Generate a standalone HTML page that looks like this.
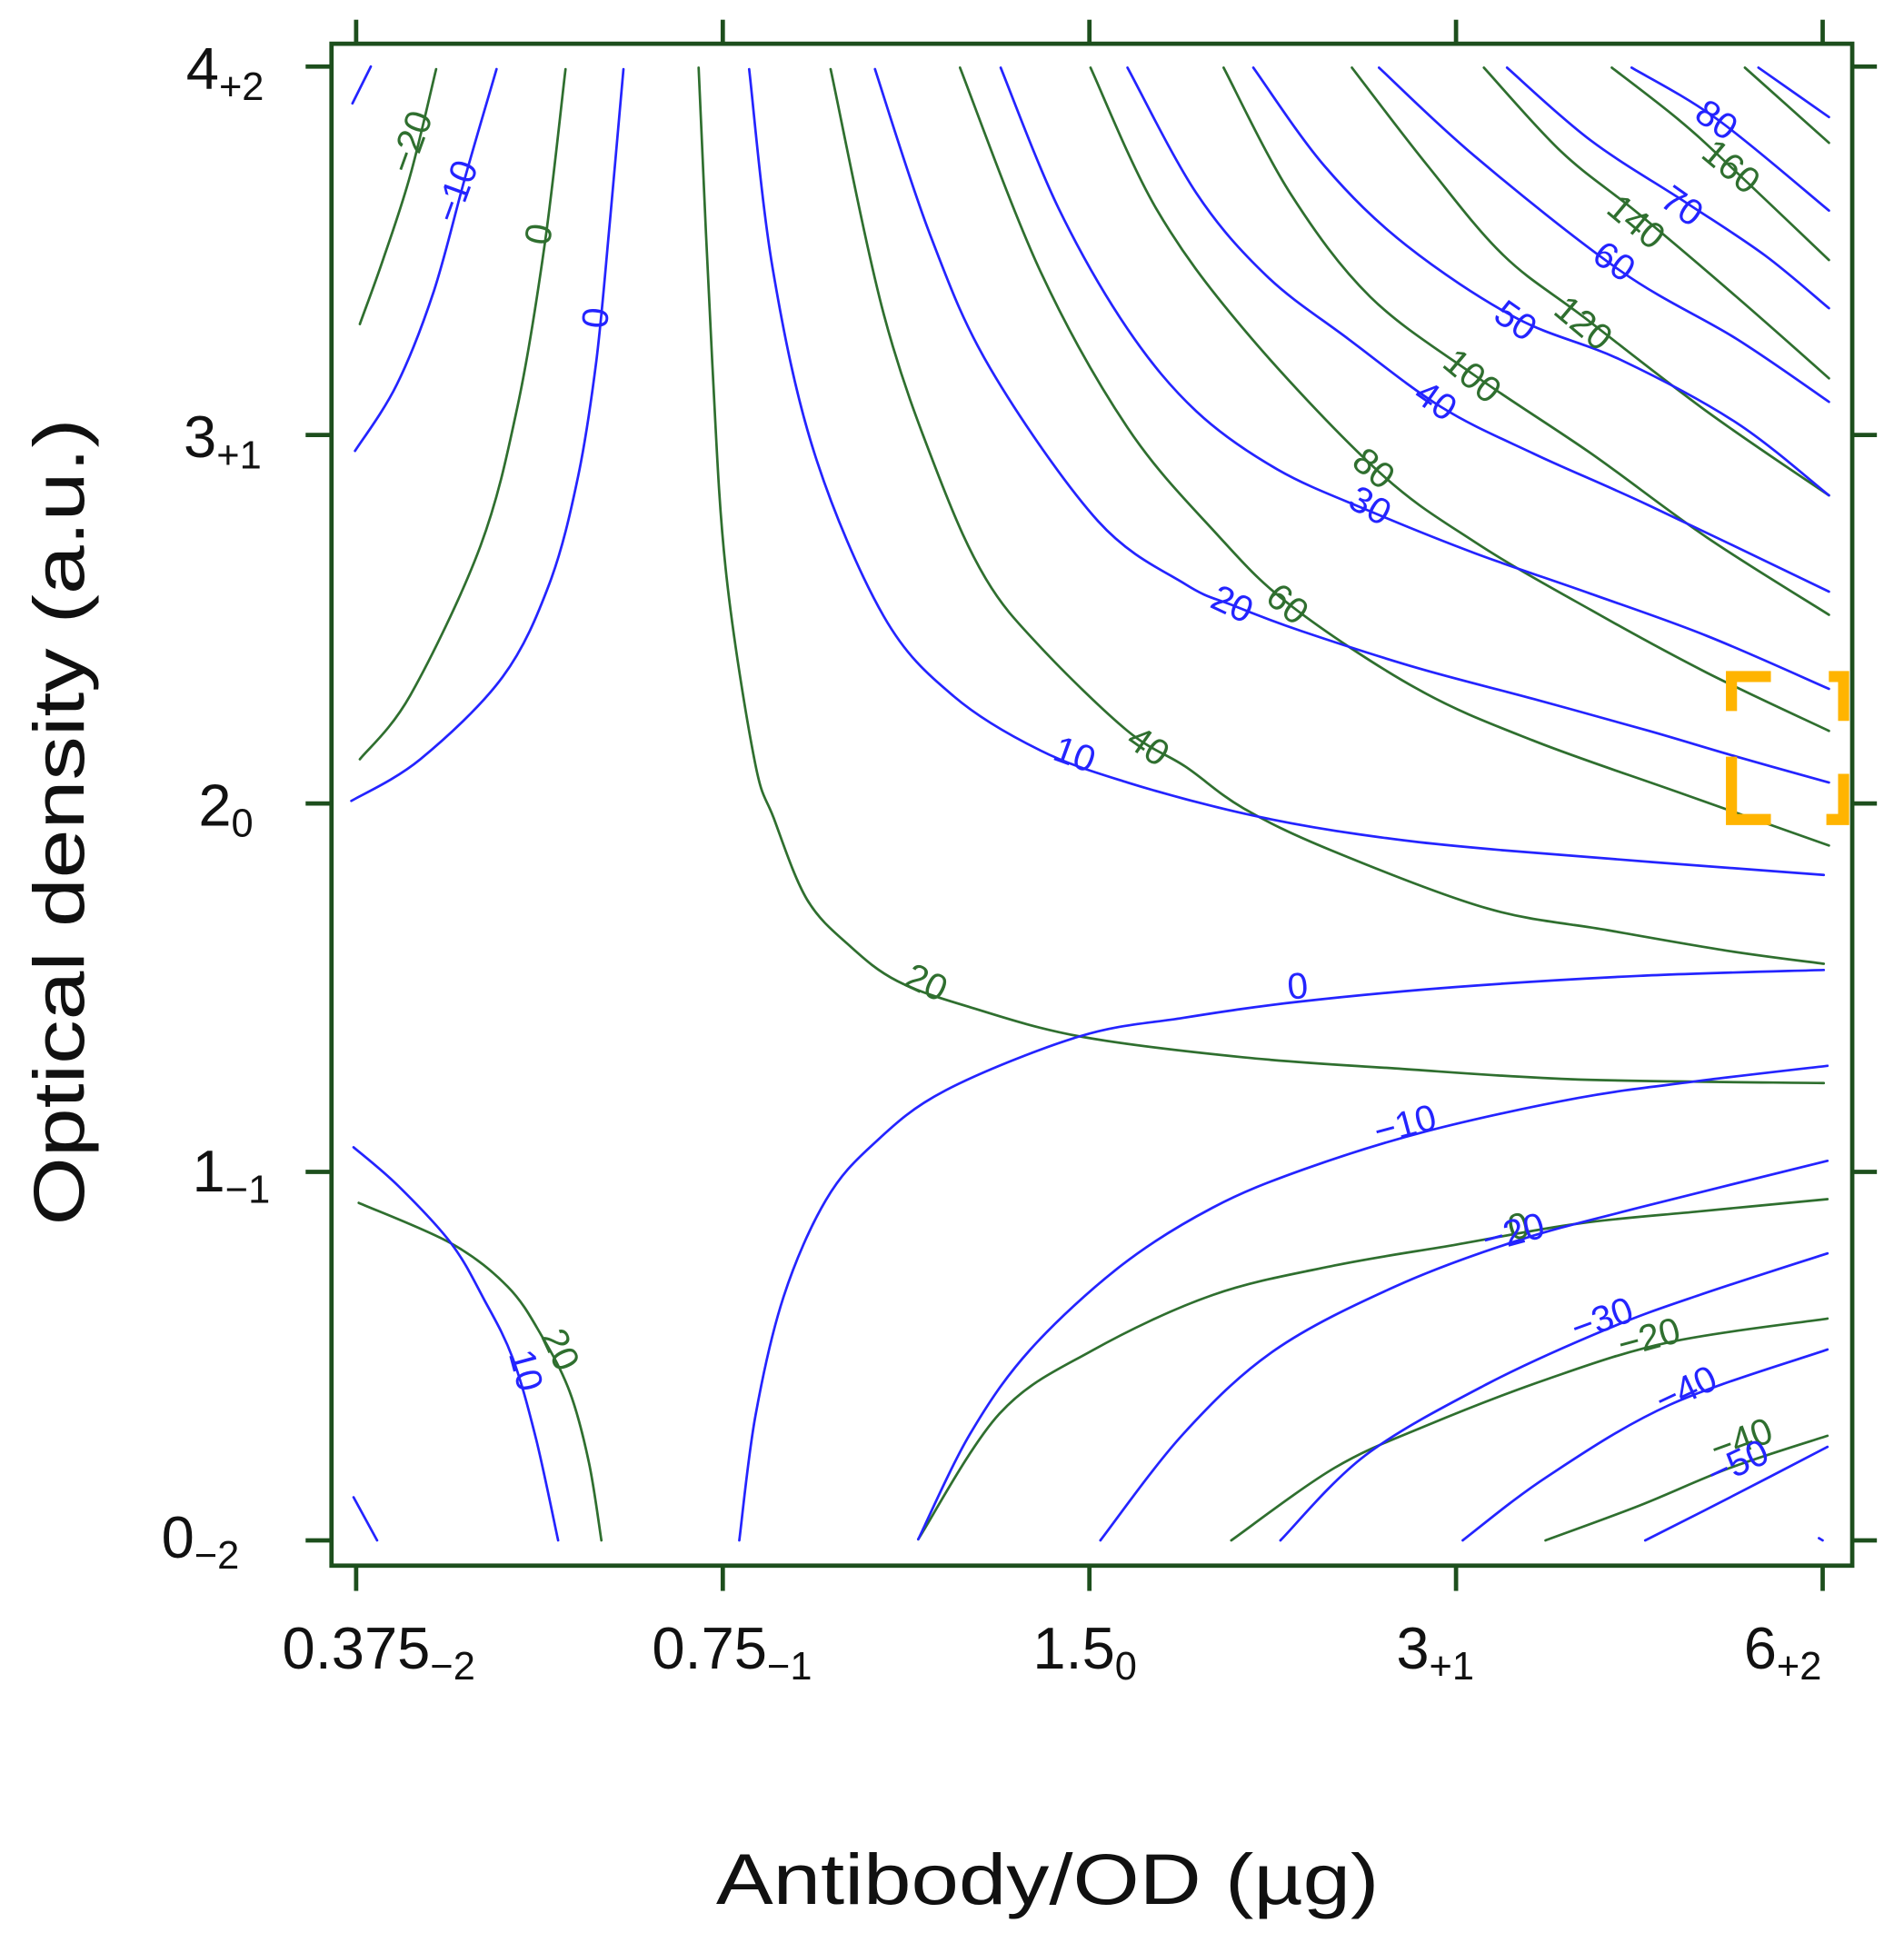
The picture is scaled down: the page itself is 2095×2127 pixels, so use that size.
<!DOCTYPE html>
<html><head><meta charset="utf-8"><title>Contour plot</title>
<style>
html,body{margin:0;padding:0;background:#fff;}
svg{display:block;font-family:"Liberation Sans",Arial,sans-serif;}
</style></head>
<body>
<svg id="chart" width="2095" height="2127" viewBox="0 0 1545 1568.6" preserveAspectRatio="none" xmlns="http://www.w3.org/2000/svg">
  <rect x="0" y="0" width="1545" height="1569" fill="#fff"/>
  <g id="contours"></g>
  <g id="labels"></g>
  <rect x="269" y="35.5" width="1234" height="1235" fill="none" stroke="#1d4f1d" stroke-width="3.5"/>
  <g id="ticks" stroke="#1d4f1d" stroke-width="3.5"></g>
  <g stroke="#FFB400" stroke-width="9" fill="none">
    <path d="M1437 549 H1405 V577"/>
    <path d="M1484 549 H1496 V585"/>
    <path d="M1405 614 V665 H1437"/>
    <path d="M1496 628 V665 H1482"/>
  </g>
  <g font-size="48" fill="#111">
    <text x="151" y="72">4<tspan font-size="32" dy="9">+2</tspan></text>
    <text x="149" y="371">3<tspan font-size="32" dy="9">+1</tspan></text>
    <text x="161" y="670">2<tspan font-size="32" dy="9">0</tspan></text>
    <text x="156" y="967">1<tspan font-size="32" dy="9">−1</tspan></text>
    <text x="131" y="1264">0<tspan font-size="32" dy="9">−2</tspan></text>
  </g>
  <g font-size="48" fill="#111">
    <text x="229" y="1354">0.375<tspan font-size="32" dy="9">−2</tspan></text>
    <text x="529" y="1354">0.75<tspan font-size="32" dy="9">−1</tspan></text>
    <text x="838" y="1354">1.5<tspan font-size="32" dy="9">0</tspan></text>
    <text x="1133" y="1354">3<tspan font-size="32" dy="9">+1</tspan></text>
    <text x="1415" y="1354">6<tspan font-size="32" dy="9">+2</tspan></text>
  </g>
  <text x="850" y="1545" font-size="58" text-anchor="middle" textLength="538" lengthAdjust="spacingAndGlyphs" fill="#111">Antibody/OD (µg)</text>
  <text transform="translate(68,667) rotate(-90)" font-size="58" text-anchor="middle" textLength="655" lengthAdjust="spacingAndGlyphs" fill="#111">Optical density (a.u.)</text>
</svg>
<script>
// x: coded log2 antibody level (-2..2); y: optical density (0..4)
const xTicks = [-2, -1, 0, 1, 2];
const yTicks = [0, 1, 2, 3, 4];
const blueLevels = [-20, -10, 0, 10, 20, 30, 40, 50, 60, 70, 80, 90, 0, -10, -20, -30, -40, -50, -60, 10, 20];
const blueLines = [
 [[-2.01,3.9],[-1.96,4.0]],
 [[-1.617,3.993],[-1.701,3.706],[-1.788,3.391],[-1.889,3.137],[-2.003,2.957]],
 [[-1.271,3.993],[-1.308,3.579],[-1.345,3.201],[-1.395,2.886],[-1.472,2.599],[-1.6,2.344],[-1.825,2.12],[-2.013,2.007]],
 [[-0.928,3.993],[-0.864,3.452],[-0.75,2.95],[-0.561,2.508],[-0.37,2.291],[-0.134,2.144],[0.104,2.057],[0.42,1.973],[0.736,1.916],[1.129,1.873],[2.003,1.806]],
 [[-0.585,3.993],[-0.434,3.542],[-0.27,3.18],[0.024,2.766],[0.262,2.595],[0.39,2.538],[0.578,2.468],[0.894,2.368],[1.21,2.284],[1.526,2.197],[1.765,2.127],[2.017,2.057]],
 [[-0.242,3.997],[-0.084,3.615],[0.104,3.288],[0.292,3.064],[0.514,2.906],[0.766,2.793],[1.052,2.679],[1.368,2.569],[1.684,2.455],[2.017,2.311]],
 [[0.104,3.997],[0.292,3.656],[0.484,3.431],[0.706,3.261],[0.958,3.077],[1.21,2.95],[1.526,2.809],[2.017,2.575]],
 [[0.447,3.997],[0.642,3.729],[0.864,3.515],[1.163,3.318],[1.449,3.204],[1.765,3.033],[2.017,2.836]],
 [[0.79,3.997],[1.052,3.756],[1.449,3.445],[1.765,3.261],[2.017,3.09]],
 [[1.139,3.997],[1.368,3.799],[1.63,3.629],[1.842,3.488],[2.017,3.344]],
 [[1.479,3.997],[1.714,3.856],[2.017,3.609]],
 [[1.825,3.997],[2.017,3.863]],
 [[-0.955,0],[-0.911,0.338],[-0.834,0.662],[-0.719,0.923],[-0.588,1.077],[-0.393,1.221],[-0.027,1.368],[0.255,1.418],[0.571,1.462],[1.002,1.502],[1.499,1.532],[2.003,1.548]],
 [[-0.467,0.003],[-0.326,0.288],[-0.161,0.518],[0.087,0.746],[0.336,0.903],[0.585,1.007],[0.918,1.11],[1.334,1.201],[1.664,1.247],[2.013,1.288]],
 [[0.03,0],[0.255,0.288],[0.504,0.515],[0.834,0.689],[1.166,0.813],[1.499,0.903],[2.013,1.03]],
 [[0.521,0],[0.753,0.231],[1.086,0.425],[1.415,0.575],[1.664,0.666],[2.013,0.779]],
 [[1.018,0],[1.25,0.174],[1.583,0.368],[2.013,0.518]],
 [[1.516,0],[1.748,0.117],[2.013,0.254]],
 [[1.99,0.006],[2.0,0.0]],
 [[-2.007,1.067],[-1.886,0.963],[-1.741,0.806],[-1.65,0.652],[-1.573,0.495],[-1.509,0.274],[-1.449,0]],
 [[-2.007,0.117],[-1.943,0]]
];
const greenLevels = [-20, 0, 20, 40, 60, 80, 100, 120, 140, 160, 180, 0, -20, -40, 20];
const greenLines = [
 [[-1.782,3.993],[-1.852,3.706],[-1.926,3.478],[-1.99,3.301]],
 [[-1.429,3.993],[-1.486,3.515],[-1.56,3.077],[-1.661,2.699],[-1.852,2.294],[-1.99,2.12]],
 [[-1.066,3.997],[-1.029,3.201],[-0.992,2.635],[-0.914,2.12],[-0.861,1.96],[-0.77,1.739],[-0.652,1.612],[-0.524,1.518],[-0.329,1.448],[-0.027,1.368],[0.42,1.311],[0.834,1.281],[1.334,1.251],[2.003,1.241]],
 [[-0.706,3.993],[-0.561,3.328],[-0.41,2.886],[-0.282,2.609],[-0.134,2.425],[0.104,2.197],[0.262,2.1],[0.42,1.987],[0.659,1.873],[1.082,1.716],[1.415,1.656],[1.748,1.599],[2.003,1.565]],
 [[-0.353,3.997],[-0.134,3.445],[0.104,3.02],[0.343,2.736],[0.548,2.538],[0.894,2.311],[1.21,2.171],[1.607,2.03],[2.017,1.886]],
 [[0.003,3.997],[0.182,3.615],[0.42,3.288],[0.783,2.906],[1.052,2.709],[1.368,2.525],[1.684,2.355],[2.017,2.197]],
 [[0.366,3.997],[0.548,3.656],[0.766,3.375],[1.052,3.161],[1.368,2.95],[1.684,2.722],[2.017,2.512]],
 [[0.716,3.997],[0.924,3.729],[1.129,3.488],[1.351,3.318],[1.684,3.064],[2.017,2.836]],
 [[1.076,3.997],[1.287,3.769],[1.496,3.602],[1.765,3.375],[2.017,3.154]],
 [[1.425,3.997],[1.607,3.856],[1.748,3.729],[2.017,3.475]],
 [[1.788,3.997],[2.017,3.793]],
 [[-0.467,0.003],[-0.245,0.344],[0.007,0.515],[0.336,0.666],[0.669,0.746],[1.002,0.803],[1.334,0.86],[1.664,0.893],[2.013,0.926]],
 [[0.387,0],[0.669,0.197],[0.918,0.311],[1.25,0.438],[1.583,0.538],[2.013,0.602]],
 [[1.244,0],[1.499,0.094],[1.748,0.197],[2.013,0.284]],
 [[-1.993,0.916],[-1.741,0.806],[-1.587,0.689],[-1.496,0.559],[-1.418,0.405],[-1.365,0.211],[-1.331,0]]
];
const blueLabelText = ["−10","0","10","20","30","40","50","60","70","80","0","−10","−20","−30","−40","−50","10"];
const blueLabelPos = [[-1.728,3.662],[-1.348,3.318],[-0.04,2.134],[0.39,2.542],[0.766,2.809],[0.945,3.094],[1.163,3.311],[1.432,3.472],[1.617,3.622],[1.711,3.856],[0.568,1.505],[0.861,1.13],[1.156,0.836],[1.398,0.602],[1.627,0.411],[1.768,0.211],[-1.536,0.462]];
const blueLabelAngle = [-70,-85,20,25,30,35,35,35,35,35,-5,-15,-15,-20,-25,-25,75];
const greenLabelText = ["−20","0","20","40","60","80","100","120","140","160","20","0","−20","−40"];
const greenLabelPos = [[-1.852,3.796],[-1.503,3.545],[-0.444,1.515],[0.161,2.157],[0.541,2.542],[0.776,2.91],[1.045,3.161],[1.348,3.304],[1.492,3.579],[1.751,3.729],[-1.442,0.518],[1.17,0.853],[1.526,0.552],[1.778,0.274]];
const greenLabelAngle = [-70,-80,25,35,40,40,40,40,40,40,65,-15,-15,-20];

const NS = "http://www.w3.org/2000/svg";
function sx(a){ return 884 + a * 297.5; }
function sy(v){ return 1250 - v * 299; }
function smoothPath(pts){
  const p = pts.map(d => [sx(d[0]), sy(d[1])]);
  let s = "M" + p[0][0].toFixed(1) + " " + p[0][1].toFixed(1);
  for (let i = 0; i < p.length - 1; i++) {
    const p0 = p[Math.max(0, i - 1)], p1 = p[i], p2 = p[i + 1], p3 = p[Math.min(p.length - 1, i + 2)];
    const c1x = p1[0] + (p2[0] - p0[0]) / 6, c1y = p1[1] + (p2[1] - p0[1]) / 6;
    const c2x = p2[0] - (p3[0] - p1[0]) / 6, c2y = p2[1] - (p3[1] - p1[1]) / 6;
    s += " C" + c1x.toFixed(1) + " " + c1y.toFixed(1) + " " + c2x.toFixed(1) + " " + c2y.toFixed(1) + " " + p2[0].toFixed(1) + " " + p2[1].toFixed(1);
  }
  return s;
}
const gC = document.getElementById("contours");
function drawLines(lines, levels, color, kind){
  lines.forEach((ln, i) => {
    const el = document.createElementNS(NS, "path");
    el.setAttribute("d", smoothPath(ln));
    el.setAttribute("fill", "none");
    el.setAttribute("stroke", color);
    el.setAttribute("stroke-width", "2");
    el.setAttribute("stroke-linecap", "round");
    
    
    gC.appendChild(el);
  });
}
drawLines(greenLines, greenLevels, "#2f6f2f", "green");
drawLines(blueLines, blueLevels, "#2424ff", "blue");

const gL = document.getElementById("labels");
function drawLabels(texts, pos, ang, color, kind){
  texts.forEach((t, i) => {
    const el = document.createElementNS(NS, "text");
    const x = sx(pos[i][0]), y = sy(pos[i][1]);
    el.setAttribute("x", x.toFixed(1));
    el.setAttribute("y", y.toFixed(1));
    el.setAttribute("transform", "rotate(" + ang[i] + " " + x.toFixed(1) + " " + y.toFixed(1) + ")");
    el.setAttribute("text-anchor", "middle");
    el.setAttribute("dominant-baseline", "central");
    el.setAttribute("font-size", "30");
    el.setAttribute("fill", color);
    el.textContent = t;
    
    
    gL.appendChild(el);
  });
}
drawLabels(greenLabelText, greenLabelPos, greenLabelAngle, "#2f6f2f", "green");
drawLabels(blueLabelText, blueLabelPos, blueLabelAngle, "#2424ff", "blue");

const gT = document.getElementById("ticks");
function tick(x1, y1, x2, y2, name){
  const el = document.createElementNS(NS, "line");
  el.setAttribute("x1", x1); el.setAttribute("y1", y1);
  el.setAttribute("x2", x2); el.setAttribute("y2", y2);
  
  
  gT.appendChild(el);
}
xTicks.forEach(v => {
  tick(sx(v), 1271, sx(v), 1291, "x-tick-bottom");
  tick(sx(v), 35, sx(v), 16, "x-tick-top");
});
yTicks.forEach(v => {
  tick(269, sy(v), 248, sy(v), "y-tick-left");
  tick(1503, sy(v), 1523, sy(v), "y-tick-right");
});
</script>
</body></html>
